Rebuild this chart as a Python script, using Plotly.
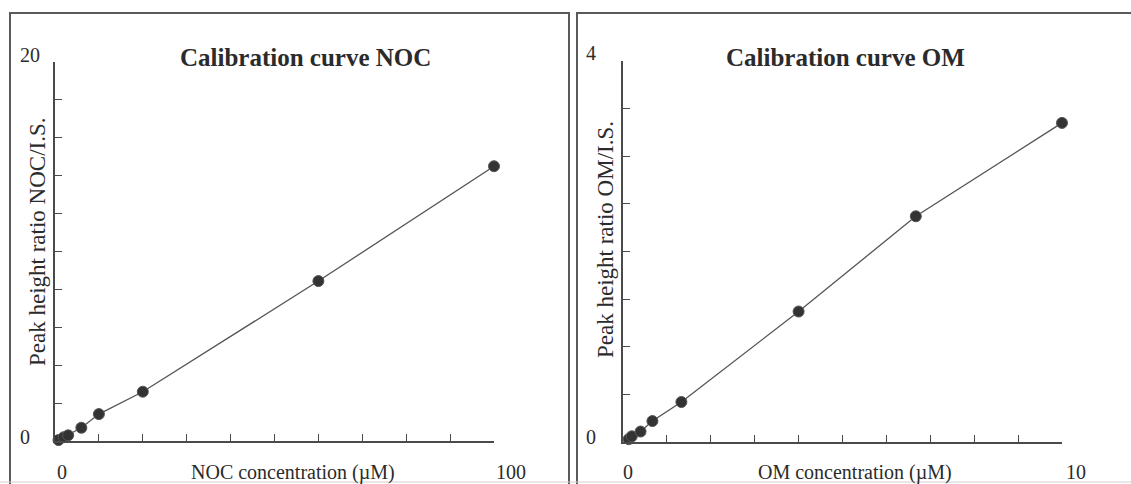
import plotly.graph_objects as go

# NOC calibration: concentration (µM) vs peak height ratio NOC/I.S.
noc_conc = [0.8, 2.0, 3.0, 6.0, 10.0, 20.0, 60.0, 100.0]
noc_ratio = [0.05, 0.2, 0.3, 0.7, 1.42, 2.6, 8.44, 14.5]

# OM calibration: concentration (µM) vs peak height ratio OM/I.S.
om_conc = [0.13, 0.2, 0.4, 0.67, 1.33, 4.0, 6.67, 10.0]
om_ratio = [0.03, 0.06, 0.11, 0.22, 0.42, 1.37, 2.37, 3.35]

noc_xticks = ["0", "100"]
noc_yticks = ["0", "20"]
om_xticks = ["0", "10"]
om_yticks = ["0", "4"]

W, H = 1131, 484
FONT = "Liberation Serif"
INK = "#2b2b2b"
AXIS = "#4a4a4a"


def px(x):
    return x / W


def py(y):
    return 1 - y / H


fig = go.Figure()

marker = dict(size=11, color="#333333", line=dict(color="#555555", width=1))
line = dict(color="#555555", width=1.3)

fig.add_trace(go.Scatter(x=noc_conc, y=noc_ratio, mode="lines+markers",
                         marker=marker, line=line, cliponaxis=False,
                         xaxis="x", yaxis="y", showlegend=False))
fig.add_trace(go.Scatter(x=om_conc, y=om_ratio, mode="lines+markers",
                         marker=marker, line=line, cliponaxis=False,
                         xaxis="x2", yaxis="y2", showlegend=False))

axis_common = dict(showline=True, linecolor=AXIS, linewidth=1.5,
                   ticks="inside", ticklen=7, tickwidth=1.2, tickcolor=AXIS,
                   showgrid=False, zeroline=False, showticklabels=False,
                   fixedrange=True)

fig.update_layout(
    width=W, height=H,
    margin=dict(l=0, r=0, t=0, b=0),
    paper_bgcolor="white", plot_bgcolor="white",
    xaxis=dict(domain=[px(55), px(494)], range=[0, 100], dtick=10, tick0=0,
               anchor="y", **axis_common),
    yaxis=dict(domain=[py(441), py(62)], range=[0, 20], dtick=2, tick0=0,
               anchor="x", **axis_common),
    xaxis2=dict(domain=[px(623), px(1062)], range=[0, 10], dtick=1, tick0=0,
                anchor="y2", **axis_common),
    yaxis2=dict(domain=[py(442), py(61)], range=[0, 4], dtick=0.5, tick0=0,
                anchor="x2", **axis_common),
)

# panel frames
frame = dict(color="#5a5a5a", width=2)
fig.add_shape(type="path", xref="paper", yref="paper",
              path=f"M {px(10)},{py(500)} L {px(10)},{py(13)} L {px(569)},{py(13)} L {px(569)},{py(500)}",
              line=frame)
fig.add_shape(type="path", xref="paper", yref="paper",
              path=f"M {px(577)},{py(500)} L {px(577)},{py(13)} L {px(1140)},{py(13)}",
              line=frame)
fig.add_shape(type="line", xref="paper", yref="paper",
              x0=px(0), x1=px(W), y0=py(482), y1=py(482),
              line=dict(color="#d0d0d0", width=1))

annotations = []


def label(text, x, y, size=20, bold=False, xanchor="center", angle=0):
    annotations.append(dict(
        text=f"<b>{text}</b>" if bold else text,
        x=px(x), y=py(y), xref="paper", yref="paper",
        xanchor=xanchor, yanchor="middle", showarrow=False, textangle=angle,
        font=dict(family=FONT, size=size, color=INK)))


# NOC panel text
label("Calibration curve NOC", 305, 57, size=25, bold=True)
label(noc_yticks[1], 30, 55)
label(noc_yticks[0], 25, 437)
label(noc_xticks[0], 62, 472)
label(noc_xticks[1], 511, 472)
label("NOC concentration (µM)", 189, 472, size=20, xanchor="left")
label("Peak height ratio NOC/I.S.", 37, 242, size=23, angle=-90)

# OM panel text
label("Calibration curve OM", 845, 57, size=25, bold=True)
label(om_yticks[1], 591, 53)
label(om_yticks[0], 591, 437)
label(om_xticks[0], 628, 472)
label(om_xticks[1], 1076, 472)
label("OM concentration (µM)", 756, 472, size=20, xanchor="left")
label("Peak height ratio OM/I.S.", 605, 240, size=23, angle=-90)

fig.update_layout(annotations=annotations)

fig.write_html("out.html")
